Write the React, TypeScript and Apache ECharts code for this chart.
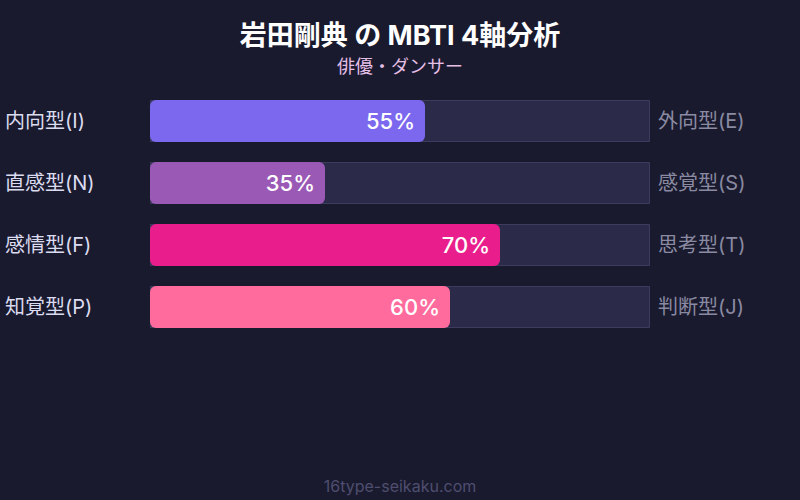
import * as echarts from 'echarts';
import { useEffect, useRef } from 'react';

const TITLE = '岩田剛典 の MBTI 4軸分析';
const SUBTITLE = '俳優・ダンサー';
const FOOTER = '16type-seikaku.com';

const LEFT_LABELS = ['内向型(I)', '直感型(N)', '感情型(F)', '知覚型(P)'];
const RIGHT_LABELS = ['外向型(E)', '感覚型(S)', '思考型(T)', '判断型(J)'];
const VALUES = [55, 35, 70, 60];
const COLORS = ['#7b68ee', '#9b59b6', '#e91e8c', '#ff6b9d'];
const TRACK = [100, 100, 100, 100];

const FONT = "Inter, 'Noto Sans CJK JP', sans-serif";

export default function App() {
  const chartRef = useRef<HTMLDivElement>(null);

  useEffect(() => {
    if (!chartRef.current) return;
    const chart = echarts.init(chartRef.current, undefined, { renderer: 'svg' });

    chart.setOption({
      animation: false,
      backgroundColor: '#1a1a2e',
      textStyle: { fontFamily: FONT },
      title: [
        {
          text: TITLE,
          left: 'center',
          top: 17,
          textStyle: { color: '#ffffff', fontSize: 27, fontWeight: 'bold', fontFamily: FONT },
        },
        {
          text: SUBTITLE,
          left: 'center',
          top: 52,
          textStyle: { color: '#e6bfe6', fontSize: 18, fontWeight: 'normal', fontFamily: FONT },
        },
        {
          text: FOOTER,
          left: 'center',
          top: 473,
          textStyle: { color: '#4e4e6e', fontSize: 16, fontWeight: 'normal', fontFamily: FONT },
        },
      ],
      grid: { left: 150, right: 150, top: 90, bottom: 162 },
      xAxis: {
        type: 'value',
        min: 0,
        max: 100,
        show: false,
      },
      yAxis: [
        {
          type: 'category',
          data: LEFT_LABELS,
          inverse: true,
          position: 'left',
          axisLine: { show: false },
          axisTick: { show: false },
          splitLine: { show: false },
          axisLabel: {
            color: '#dcdcf0',
            fontSize: 20,
            align: 'left',
            margin: 145,
            fontFamily: FONT,
          },
        },
        {
          type: 'category',
          data: RIGHT_LABELS,
          inverse: true,
          position: 'right',
          axisLine: { show: false },
          axisTick: { show: false },
          splitLine: { show: false },
          axisLabel: {
            color: '#8a8aa2',
            fontSize: 20,
            align: 'left',
            margin: 8,
            fontFamily: FONT,
          },
        },
      ],
      series: [
        {
          type: 'bar',
          data: TRACK,
          barWidth: 42,
          barGap: '-100%',
          silent: true,
          itemStyle: { color: '#2b2a48', borderColor: '#3d3c5e', borderWidth: 1 },
          z: 1,
        },
        {
          type: 'bar',
          data: VALUES.map((v, i) => ({ value: v, itemStyle: { color: COLORS[i] } })),
          barWidth: 42,
          barGap: '-100%',
          itemStyle: { borderRadius: 6 },
          label: {
            show: true,
            position: 'insideRight',
            distance: 10,
            formatter: '{c}%',
            color: '#ffffff',
            fontSize: 22,
            fontWeight: 500,
            fontFamily: FONT,
          },
          z: 2,
        },
      ],
    });

    return () => chart.dispose();
  }, []);

  return (
    <div
      ref={chartRef}
      style={{ position: 'fixed', left: 0, top: 0, width: 800, height: 500 }}
    />
  );
}
